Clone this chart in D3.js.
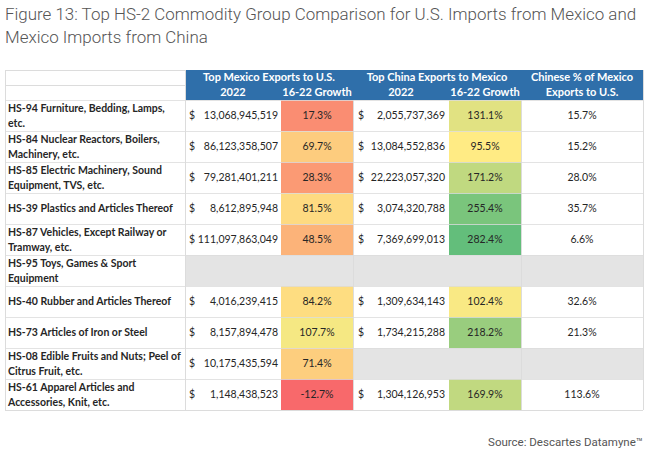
<!DOCTYPE html>
<html><head><meta charset="utf-8">
<script src="https://cdn.jsdelivr.net/npm/d3@7"></script>
<style>
html,body{margin:0;padding:0;background:#fff;}
svg{display:block;}
</style></head>
<body>
<svg id="chart" width="650" height="452"></svg>
<script>
// ---- data ----
const categories = [
  "HS-94 Furniture, Bedding, Lamps,\netc.",
  "HS-84 Nuclear Reactors, Boilers,\nMachinery, etc.",
  "HS-85 Electric Machinery, Sound\nEquipment, TVS, etc.",
  "HS-39 Plastics and Articles Thereof",
  "HS-87 Vehicles, Except Railway or\nTramway, etc.",
  "HS-95 Toys, Games & Sport\nEquipment",
  "HS-40 Rubber and Articles Thereof",
  "HS-73 Articles of Iron or Steel",
  "HS-08 Edible Fruits and Nuts; Peel of\nCitrus Fruit, etc.",
  "HS-61 Apparel Articles and\nAccessories, Knit, etc."
];
const mexicoExports2022 = [13068945519, 86123358507, 79281401211, 8612895948, 111097863049, null, 4016239415, 8157894478, 10175435594, 1148438523];
const mexicoGrowth = [17.3, 69.7, 28.3, 81.5, 48.5, null, 84.2, 107.7, 71.4, -12.7];
const chinaExports2022 = [2055737369, 13084552836, 22223057320, 3074320788, 7369699013, null, 1309634143, 1734215288, null, 1304126953];
const chinaGrowth = [131.1, 95.5, 171.2, 255.4, 282.4, null, 102.4, 218.2, null, 169.9];
const chineseShare = [15.7, 15.2, 28.0, 35.7, 6.6, null, 32.6, 21.3, null, 113.6];

const headerGroups = ["Top Mexico Exports to U.S.", "Top China Exports to Mexico"];
const subHeaders = ["2022", "16-22 Growth", "2022", "16-22 Growth"];
const shareHeader = ["Chinese % of Mexico", "Exports to U.S."];
const titleLines = ["Figure 13: Top HS-2 Commodity Group Comparison for U.S. Imports from Mexico and", "Mexico Imports from China"];
const sourceText = "Source: Descartes Datamyne\u2122";

// ---- layout ----
const svg = d3.select("#chart");
const colEdges = [5, 185, 281, 353, 449, 521, 643];
const tableTop = 70, headerBottom = 100, tableBottom = 410;
const font = "Lato, 'Open Sans', sans-serif";
const textCol = "#262626";
const gridCol = "#dcdcdc";

const y = d3.scaleBand().domain(d3.range(categories.length)).range([headerBottom, tableBottom]).paddingInner(0);

// Excel-like 3-color scale across both growth columns (min / 50th pct / max)
const allGrowth = mexicoGrowth.concat(chinaGrowth).filter(v => v != null);
const color = d3.scaleLinear()
  .domain([d3.min(allGrowth), d3.quantile(allGrowth.slice().sort(d3.ascending), 0.5), d3.max(allGrowth)])
  .range(["#F8696B", "#FFEB84", "#63BE7B"]);

const locale = d3.formatLocale({ decimal: ".", thousands: ",", grouping: [3], currency: ["$", ""], minus: "-" });
const fmtMoney = locale.format(",");
const fmtPct = locale.format(".1f");

// Title
svg.append("g").selectAll("text").data(titleLines).join("text")
  .attr("x", 5).attr("y", (d, i) => 19.5 + i * 23.5)
  .attr("font-family", "Roboto, 'Liberation Sans', sans-serif").attr("font-weight", 300)
  .attr("font-size", 16.95).attr("fill", "#555555").text(d => d);

// Header background
svg.append("rect").attr("x", colEdges[1]).attr("y", tableTop)
  .attr("width", colEdges[6] - colEdges[1]).attr("height", headerBottom - tableTop)
  .attr("fill", "#2F6FAA");

// Row cells
const rows = svg.append("g").selectAll("g").data(categories).join("g")
  .attr("transform", (d, i) => `translate(0,${y(i)})`);
const bh = y.bandwidth();

rows.each(function(d, i) {
  const g = d3.select(this);
  if (mexicoExports2022[i] == null) {
    g.append("rect").attr("x", colEdges[1]).attr("y", 0).attr("width", colEdges[6] - colEdges[1]).attr("height", bh).attr("fill", "#E4E4E4");
  } else if (chinaExports2022[i] == null) {
    g.append("rect").attr("x", colEdges[3]).attr("y", 0).attr("width", colEdges[6] - colEdges[3]).attr("height", bh).attr("fill", "#E4E4E4");
  }
  if (mexicoGrowth[i] != null) {
    g.append("rect").attr("x", colEdges[2]).attr("width", colEdges[3] - colEdges[2]).attr("height", bh).attr("fill", color(mexicoGrowth[i]));
  }
  if (chinaGrowth[i] != null) {
    g.append("rect").attr("x", colEdges[4]).attr("width", colEdges[5] - colEdges[4]).attr("height", bh).attr("fill", color(chinaGrowth[i]));
  }
});

// Grid lines
const grid = svg.append("g").attr("stroke", gridCol).attr("stroke-width", 1).attr("shape-rendering", "crispEdges");
y.domain().forEach(i => {
  grid.append("line").attr("x1", colEdges[0]).attr("x2", colEdges[6]).attr("y1", y(i) + 0.5).attr("y2", y(i) + 0.5)
    .attr("stroke-opacity", 0.8);
});
grid.append("line").attr("x1", colEdges[0]).attr("x2", colEdges[1]).attr("y1", 85.5).attr("y2", 85.5);
grid.append("line").attr("x1", colEdges[0]).attr("x2", colEdges[1]).attr("y1", tableTop + 0.5).attr("y2", tableTop + 0.5);
grid.append("line").attr("x1", colEdges[0]).attr("x2", colEdges[6]).attr("y1", tableBottom + 0.5).attr("y2", tableBottom + 0.5);
grid.append("line").attr("x1", colEdges[0] + 0.5).attr("x2", colEdges[0] + 0.5).attr("y1", tableTop).attr("y2", tableBottom);
grid.append("line").attr("x1", colEdges[6] + 0.5).attr("x2", colEdges[6] + 0.5).attr("y1", tableTop).attr("y2", tableBottom);
[1, 3, 5].forEach(c => {
  grid.append("line").attr("x1", colEdges[c] + 0.5).attr("x2", colEdges[c] + 0.5).attr("y1", c === 1 ? tableTop : headerBottom).attr("y2", tableBottom);
});

// Row labels
rows.each(function(d, i) {
  const g = d3.select(this);
  const lines = d.split("\n");
  const lh = 14.8;
  const startY = bh / 2 - (lines.length - 1) * lh / 2;
  g.append("g").selectAll("text").data(lines).join("text")
    .attr("x", 8).attr("y", (l, k) => startY + k * lh).attr("dy", "0.36em")
    .attr("font-family", font).attr("font-weight", 700).attr("font-size", 10.5)
    .attr("fill", textCol).text(l => l);
});

// Values
const valFont = { "font-family": font, "font-size": 10.5, "fill": textCol };
function addText(g, x, yy, txt, anchor) {
  const t = g.append("text").attr("x", x).attr("y", yy).attr("dy", "0.36em").attr("text-anchor", anchor).text(txt);
  Object.entries(valFont).forEach(([k, v]) => t.attr(k, v));
  return t;
}
rows.each(function(d, i) {
  const g = d3.select(this);
  const mid = bh / 2;
  if (mexicoExports2022[i] != null) {
    addText(g, colEdges[1] + 4, mid, "$", "start");
    addText(g, colEdges[2] - 3, mid, fmtMoney(mexicoExports2022[i]), "end");
  }
  if (mexicoGrowth[i] != null) addText(g, (colEdges[2] + colEdges[3]) / 2, mid, fmtPct(mexicoGrowth[i]) + "%", "middle");
  if (chinaExports2022[i] != null) {
    addText(g, colEdges[3] + 5, mid, "$", "start");
    addText(g, colEdges[4] - 4, mid, fmtMoney(chinaExports2022[i]), "end");
  }
  if (chinaGrowth[i] != null) addText(g, (colEdges[4] + colEdges[5]) / 2, mid, fmtPct(chinaGrowth[i]) + "%", "middle");
  if (chineseShare[i] != null) addText(g, (colEdges[5] + colEdges[6]) / 2, mid, fmtPct(chineseShare[i]) + "%", "middle");
});

// Header text
const hdr = svg.append("g").attr("font-family", font).attr("font-weight", 700).attr("font-size", 11).attr("fill", "#ffffff").attr("text-anchor", "middle");
headerGroups.forEach((h, k) => {
  hdr.append("text").attr("x", (colEdges[1 + 2 * k] + colEdges[3 + 2 * k]) / 2).attr("y", 77.5).attr("dy", "0.36em").text(h);
});
subHeaders.forEach((h, k) => {
  hdr.append("text").attr("x", (colEdges[1 + k] + colEdges[2 + k]) / 2).attr("y", 92.5).attr("dy", "0.36em").text(h);
});
shareHeader.forEach((h, k) => {
  hdr.append("text").attr("x", (colEdges[5] + colEdges[6]) / 2).attr("y", 77.5 + k * 15).attr("dy", "0.36em").text(h);
});

// Source
svg.append("text").attr("x", 643).attr("y", 446).attr("text-anchor", "end")
  .attr("font-family", "Roboto, 'Liberation Sans', sans-serif").attr("font-weight", 400)
  .attr("font-size", 11.5).attr("fill", "#555").text(sourceText);
</script>
</body></html>
